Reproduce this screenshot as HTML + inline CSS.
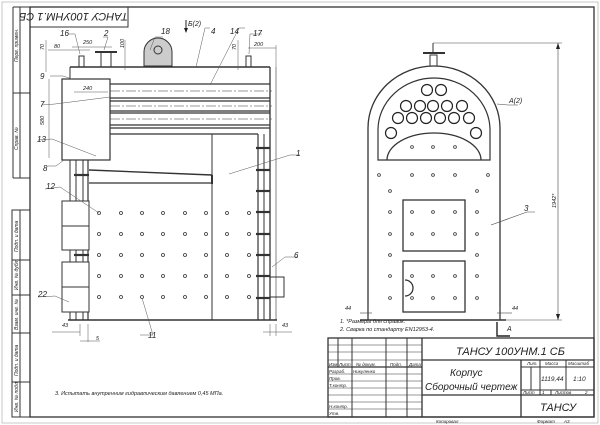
<!DOCTYPE html>
<html><head><meta charset="utf-8"><style>
html,body{margin:0;padding:0;background:#fff;}
svg{display:block}
text{font-family:"Liberation Sans","DejaVu Sans",sans-serif;font-style:italic;fill:#222}
</style></head><body>
<svg width="600" height="425" viewBox="0 0 600 425" xmlns="http://www.w3.org/2000/svg">
<rect x="0" y="0" width="600" height="425" fill="#fff"/>
<g stroke="#333" fill="none" stroke-width="1">
<!-- frame -->
<rect x="30" y="7" width="564" height="410" stroke-width="1.3"/>
<rect x="2" y="2" width="596" height="421" stroke="#bbb" stroke-width="0.8"/>
<line x1="13" y1="7" x2="30" y2="7"/>
<line x1="13" y1="7" x2="13" y2="178"/><line x1="20" y1="7" x2="20" y2="178"/>
<line x1="13" y1="93" x2="30" y2="93"/><line x1="13" y1="178" x2="30" y2="178"/>
<rect x="12" y="210" width="18" height="207"/>
<line x1="20" y1="210" x2="20" y2="417"/>
<line x1="12" y1="260" x2="30" y2="260"/><line x1="12" y1="295" x2="30" y2="295"/>
<line x1="12" y1="333" x2="30" y2="333"/><line x1="12" y1="382" x2="30" y2="382"/>
<rect x="30" y="7" width="98" height="20"/>
</g>
<g font-size="5" fill="#333">
<text transform="translate(18,62) rotate(-90)">Перв. примен.</text>
<text transform="translate(18,150) rotate(-90)">Справ. №</text>
<text transform="translate(18,252) rotate(-90)">Подп. и дата</text>
<text transform="translate(18,290) rotate(-90)">Инв. № дубл.</text>
<text transform="translate(18,330) rotate(-90)">Взам. инв. №</text>
<text transform="translate(18,376) rotate(-90)">Подп. и дата</text>
<text transform="translate(18,412) rotate(-90)">Инв. № подл.</text>
</g>
<text transform="translate(128,13) rotate(180)" font-size="11">ТАНСУ 100УНМ.1 СБ</text>

<!-- left view -->
<g stroke="#333" fill="none" stroke-width="1">
<line x1="70" y1="67" x2="270" y2="67" stroke-width="1.4"/>
<line x1="70" y1="67" x2="70" y2="79"/>
<line x1="270" y1="67" x2="270" y2="320" stroke-width="1.3"/>
<line x1="276" y1="67" x2="276" y2="320" stroke-width="0.6"/>
<line x1="68" y1="320" x2="277" y2="320" stroke-width="1.4"/>
<rect x="62" y="79" width="48" height="81" stroke-width="1.2"/>
<!-- tubes -->
<g stroke-width="1.2">
<line x1="110" y1="84" x2="270" y2="84"/><line x1="110" y1="98" x2="270" y2="98"/>
<line x1="110" y1="101" x2="270" y2="101"/><line x1="110" y1="111" x2="270" y2="111"/>
<line x1="110" y1="113" x2="270" y2="113"/><line x1="110" y1="125" x2="270" y2="125"/>
<line x1="110" y1="128" x2="270" y2="128"/><line x1="110" y1="134" x2="258" y2="134"/>
</g>
<g stroke-width="0.5" stroke-dasharray="10,2,2,2">
<line x1="110" y1="91" x2="272" y2="91"/><line x1="110" y1="106" x2="272" y2="106"/>
<line x1="110" y1="119" x2="272" y2="119"/>
</g>
<line x1="212" y1="134" x2="212" y2="320"/>
<!-- ladder right -->
<line x1="258" y1="134" x2="258" y2="320" stroke-width="1.2"/>
<line x1="264" y1="134" x2="264" y2="320"/>
<g stroke-width="2.2">
<line x1="256" y1="148" x2="270" y2="148"/><line x1="256" y1="170" x2="270" y2="170"/>
<line x1="256" y1="191" x2="270" y2="191"/><line x1="256" y1="212" x2="270" y2="212"/>
<line x1="256" y1="234" x2="270" y2="234"/><line x1="256" y1="255" x2="270" y2="255"/>
<line x1="256" y1="276" x2="270" y2="276"/><line x1="256" y1="298" x2="270" y2="298"/>
</g>
<rect x="270" y="277" width="14" height="20"/>
<!-- left column -->
<line x1="70" y1="160" x2="70" y2="320"/><line x1="76" y1="160" x2="76" y2="320"/>
<line x1="83" y1="160" x2="83" y2="320"/><line x1="88" y1="160" x2="88" y2="320" stroke-width="1.2"/>
<g stroke-width="2.2"><line x1="74" y1="175" x2="89" y2="175"/><line x1="74" y1="255" x2="89" y2="255"/></g>
<rect x="62" y="201" width="27" height="49" fill="#fff"/><line x1="62" y1="226" x2="89" y2="226"/>
<rect x="62" y="262" width="27" height="50" fill="#fff"/><line x1="62" y1="287" x2="89" y2="287"/>
<!-- grate -->
<line x1="89" y1="170" x2="212" y2="175" stroke-width="1.4"/>
<line x1="89" y1="183" x2="212" y2="183" stroke-width="1.2"/>
<line x1="212" y1="175" x2="212" y2="184" stroke-width="2"/>
<!-- top fittings -->
<rect x="79" y="56" width="5" height="11"/><rect x="246" y="56" width="5" height="11"/>
<rect x="101" y="52" width="10" height="15"/><line x1="95" y1="52" x2="117" y2="52" stroke-width="2"/>
<path d="M144 66 L144 52 A13 13 0 0 1 172 52 L172 66 Z" fill="#ccc"/>
<circle cx="158" cy="50" r="4"/>
</g>
<!-- dots -->
<g fill="#fff" stroke="#333" stroke-width="0.8">
<g id="r"><circle cx="99" cy="213" r="1.5"/><circle cx="121" cy="213" r="1.5"/><circle cx="142" cy="213" r="1.5"/><circle cx="163" cy="213" r="1.5"/><circle cx="185" cy="213" r="1.5"/><circle cx="206" cy="213" r="1.5"/><circle cx="227" cy="213" r="1.5"/><circle cx="249" cy="213" r="1.5"/></g>
<use href="#r" y="21"/><use href="#r" y="42"/><use href="#r" y="63"/><use href="#r" y="84"/>
</g>
<!-- leaders left -->
<g stroke="#555" stroke-width="0.5" fill="none">
<polyline points="50,76 63,76 72,79"/><polyline points="42,105 55,104 110,97"/><polyline points="38,140 52,139 96,156"/>
<polyline points="48,166 56,166 64,160"/><polyline points="45,189 60,187 99,213"/><polyline points="38,297 55,296 69,302"/>
<polyline points="140,335 153,335 142,298"/><polyline points="298,257 285,257 272,267"/><polyline points="300,155 290,155 229,174"/>
<polyline points="210,28 205,28 196,67"/><polyline points="245,28 239,28 210,85"/><polyline points="163,37 155,37 150,50"/>
<polyline points="68,34 75,34 80,54"/><polyline points="103,37 108,37 104,50"/><polyline points="262,34 250,34 249,54"/>
<line x1="49" y1="79" x2="49" y2="158"/><line x1="74" y1="92" x2="108" y2="92"/>
<line x1="46" y1="40" x2="46" y2="72"/><line x1="48" y1="50" x2="90" y2="50"/><line x1="72" y1="47" x2="112" y2="47"/>
<line x1="125" y1="40" x2="125" y2="70"/><line x1="238" y1="40" x2="238" y2="70"/><line x1="248" y1="48" x2="276" y2="48"/><line x1="276" y1="45" x2="276" y2="67"/>
<line x1="52" y1="332" x2="80" y2="332"/><line x1="80" y1="324" x2="80" y2="336"/><line x1="88" y1="324" x2="88" y2="342"/><line x1="80" y1="341" x2="100" y2="341"/>
<line x1="263" y1="332" x2="292" y2="332"/><line x1="270" y1="324" x2="270" y2="336"/><line x1="276" y1="324" x2="276" y2="336"/>
</g>
<line x1="186" y1="20" x2="186" y2="32" stroke="#222" stroke-width="1"/>
<polygon points="184,28 188,28 186,33" fill="#222"/>
<g font-size="8">
<text x="188" y="26" font-size="7">Б(2)</text>
<text x="40" y="79">9</text><text x="40" y="107">7</text><text x="37" y="142">13</text><text x="43" y="171">8</text>
<text x="46" y="189">12</text><text x="38" y="297">22</text><text x="148" y="338">11</text><text x="294" y="258">6</text>
<text x="296" y="156">1</text><text x="211" y="34">4</text><text x="230" y="34">14</text><text x="161" y="34">18</text>
<text x="60" y="36">16</text><text x="104" y="36">2</text><text x="253" y="36">17</text>
</g>
<g font-size="5.5">
<text x="54" y="48">80</text><text x="83" y="44">250</text><text x="254" y="46">200</text>
<text x="83" y="90">240</text><text x="62" y="327">43</text><text x="282" y="327">43</text><text x="96" y="340">5</text>
<text transform="translate(44,125) rotate(-90)">580</text>
<text transform="translate(44,50) rotate(-90)">70</text><text transform="translate(124,48) rotate(-90)">100</text><text transform="translate(236,50) rotate(-90)">70</text>
<text x="55" y="395" font-size="5.5">3. Испытать внутренним гидравлическим давлением 0,45 МПа.</text>
</g>

<!-- front view -->
<g stroke="#333" fill="none" stroke-width="1.3">
<path d="M368 320 L368 128 A66 62 0 0 1 500 128 L500 320"/>
<path d="M378 160 L378 130 A56 52 0 0 1 490 130 L490 160 Z" stroke-width="1.2"/>
<path d="M387 160 A47 27 0 0 1 481 160"/>
<rect x="403" y="200" width="62" height="51"/>
<rect x="403" y="261" width="62" height="51"/>
<path d="M405 280 A8 8 0 0 1 405 296"/>
<rect x="430" y="55" width="7" height="11" stroke-width="1"/>
<line x1="423" y1="53" x2="445" y2="53" stroke-width="2"/>
<line x1="433" y1="43" x2="433" y2="53" stroke-width="1"/>
<line x1="360" y1="320" x2="506" y2="320" stroke-width="1.5"/>
</g>
<g stroke="#222" fill="#fff" stroke-width="1.2">
<circle cx="427" cy="90" r="5.5"/><circle cx="441" cy="90" r="5.5"/>
<circle cx="406" cy="106" r="5.5"/><circle cx="420" cy="106" r="5.5"/><circle cx="433" cy="106" r="5.5"/><circle cx="447" cy="106" r="5.5"/><circle cx="462" cy="106" r="5.5"/>
<circle cx="398" cy="118" r="5.5"/><circle cx="412" cy="118" r="5.5"/><circle cx="426" cy="118" r="5.5"/><circle cx="440" cy="118" r="5.5"/><circle cx="454" cy="118" r="5.5"/><circle cx="469" cy="118" r="5.5"/>
<circle cx="391" cy="133" r="5.5"/><circle cx="476" cy="133" r="5.5"/>
</g>
<g fill="#fff" stroke="#333" stroke-width="0.8">
<circle cx="412" cy="147" r="1.4"/><circle cx="433" cy="147" r="1.4"/><circle cx="455" cy="147" r="1.4"/>
<circle cx="379" cy="175" r="1.4"/><circle cx="412" cy="175" r="1.4"/><circle cx="433" cy="175" r="1.4"/><circle cx="455" cy="175" r="1.4"/><circle cx="488" cy="175" r="1.4"/>
<circle cx="390" cy="191" r="1.4"/><circle cx="477" cy="191" r="1.4"/>
<circle cx="390" cy="212" r="1.4"/><circle cx="412" cy="212" r="1.4"/><circle cx="433" cy="212" r="1.4"/><circle cx="455" cy="212" r="1.4"/><circle cx="477" cy="212" r="1.4"/>
<circle cx="390" cy="234" r="1.4"/><circle cx="412" cy="234" r="1.4"/><circle cx="433" cy="234" r="1.4"/><circle cx="455" cy="234" r="1.4"/><circle cx="477" cy="234" r="1.4"/>
<circle cx="390" cy="255" r="1.4"/><circle cx="477" cy="255" r="1.4"/>
<circle cx="390" cy="276" r="1.4"/><circle cx="412" cy="276" r="1.4"/><circle cx="433" cy="276" r="1.4"/><circle cx="455" cy="276" r="1.4"/><circle cx="477" cy="276" r="1.4"/>
<circle cx="390" cy="298" r="1.4"/><circle cx="412" cy="298" r="1.4"/><circle cx="433" cy="298" r="1.4"/><circle cx="455" cy="298" r="1.4"/><circle cx="477" cy="298" r="1.4"/>
</g>
<g stroke="#444" stroke-width="0.6" fill="none">
<line x1="433" y1="43" x2="562" y2="43"/><line x1="558" y1="43" x2="558" y2="320"/><line x1="506" y1="320" x2="562" y2="320"/>
<polyline points="518,105 508,105 497,104"/><polyline points="535,212 527,212 491,225"/>
<line x1="360" y1="313" x2="372" y2="313"/><line x1="497" y1="313" x2="512" y2="313"/>
<line x1="368" y1="306" x2="368" y2="320"/><line x1="500" y1="306" x2="500" y2="320"/>
</g>
<polygon points="556,49 560,49 558,43" fill="#222"/><polygon points="556,314 560,314 558,320" fill="#222"/>
<polyline points="497,322 497,336 510,336" stroke="#222" stroke-width="1.4" fill="none"/>
<g font-size="7"><text x="509" y="103">A(2)</text><text x="507" y="331">A</text><text x="524" y="211" font-size="8">3</text></g>
<g font-size="5.5">
<text transform="translate(556,208) rotate(-90)">1942*</text>
<text x="345" y="310">44</text><text x="512" y="310">44</text>
<text x="340" y="323">1. *Размеры для справок.</text>
<text x="340" y="331">2. Сварка по стандарту EN12953-4.</text>
</g>

<!-- title block -->
<g stroke="#333" fill="none" stroke-width="1">
<rect x="328" y="338" width="266" height="79" stroke-width="1.3"/>
<line x1="422" y1="338" x2="422" y2="417" stroke-width="1.3"/>
<line x1="422" y1="360" x2="594" y2="360" stroke-width="1.3"/>
<line x1="422" y1="395" x2="594" y2="395" stroke-width="1.3"/>
<line x1="521" y1="360" x2="521" y2="417" stroke-width="1.3"/>
<line x1="521" y1="367" x2="594" y2="367"/><line x1="521" y1="390" x2="594" y2="390"/>
<line x1="531" y1="367" x2="531" y2="390"/><line x1="540" y1="360" x2="540" y2="395"/><line x1="566" y1="360" x2="566" y2="390"/>
<line x1="551" y1="390" x2="551" y2="395"/>
<line x1="338" y1="338" x2="338" y2="367"/><line x1="352" y1="338" x2="352" y2="417"/>
<line x1="386" y1="338" x2="386" y2="417"/><line x1="407" y1="338" x2="407" y2="417"/>
<line x1="328" y1="345" x2="422" y2="345" stroke-width="0.6"/><line x1="328" y1="352" x2="422" y2="352" stroke-width="0.6"/>
<line x1="328" y1="360" x2="422" y2="360" stroke-width="0.6"/><line x1="328" y1="367" x2="422" y2="367" stroke-width="1.2"/>
<line x1="328" y1="374" x2="422" y2="374" stroke-width="0.6"/><line x1="328" y1="381" x2="422" y2="381" stroke-width="0.6"/>
<line x1="328" y1="388" x2="422" y2="388" stroke-width="0.6"/><line x1="328" y1="395" x2="422" y2="395" stroke-width="0.6"/>
<line x1="328" y1="402" x2="422" y2="402" stroke-width="0.6"/><line x1="328" y1="409" x2="422" y2="409" stroke-width="0.6"/>
</g>
<g font-size="4.5">
<text x="329" y="366">Изм</text><text x="339" y="366">Лист</text><text x="356" y="366">№ докум.</text><text x="390" y="366">Подп.</text><text x="409" y="366">Дата</text>
<text x="329" y="373">Разраб.</text><text x="353" y="373">Никуленко</text><text x="329" y="380">Пров.</text><text x="329" y="387">Т.контр.</text>
<text x="329" y="408">Н.контр.</text><text x="329" y="415">Утв.</text>
<text x="527" y="365">Лит.</text><text x="545" y="365">Масса</text><text x="568" y="365">Масштаб</text>
<text x="523" y="394">Лист</text><text x="542" y="394">1</text><text x="555" y="394">Листов</text><text x="585" y="394">2</text>
<text x="436" y="423">Копировал</text><text x="537" y="423">Формат</text><text x="564" y="423">А3</text>
</g>
<text x="541" y="381" font-size="6.5">1119,44</text><text x="573" y="381" font-size="6.5">1:10</text>
<text x="456" y="355" font-size="11">ТАНСУ 100УНМ.1 СБ</text>
<text x="450" y="376" font-size="10">Корпус</text>
<text x="425" y="390" font-size="10">Сборочный чертеж</text>
<text x="540" y="411" font-size="11">ТАНСУ</text>
</svg>
</body></html>
